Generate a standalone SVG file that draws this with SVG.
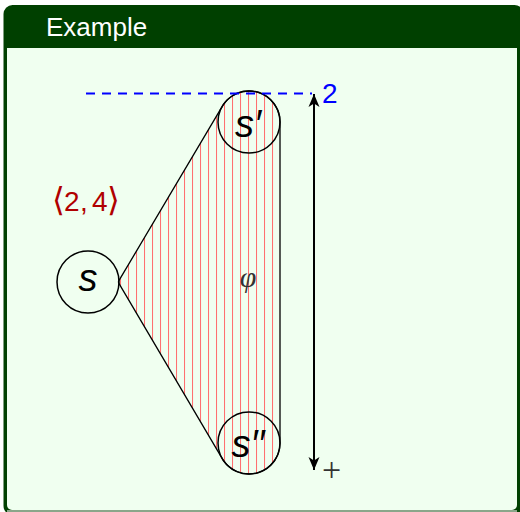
<svg xmlns="http://www.w3.org/2000/svg" width="520" height="512" viewBox="0 0 520 512">
  <style>
    .node { fill: none; stroke: #000; stroke-width: 1.5; }
    .lbl { font-family: "Liberation Sans", "DejaVu Sans", sans-serif; font-style: italic; font-size: 38px; fill: #000; text-anchor: middle; }
    .hull { stroke: #000; stroke-width: 1.3; fill: url(#hatch); }
  </style>
  <defs>
    <pattern id="hatch" patternUnits="userSpaceOnUse" x="0" y="0" width="8" height="8">
      <line x1="0.5" y1="0" x2="0.5" y2="8" stroke="#ff7070" stroke-width="1.1"/>
    </pattern>
    <marker id="stealth" markerUnits="userSpaceOnUse" viewBox="-14 -7 15 14" refX="0" refY="0" markerWidth="15" markerHeight="14" orient="auto-start-reverse">
      <path d="M0,0 L-13,-5.5 L-9.5,0 L-13,5.5 Z" fill="#000"/>
    </marker>
  </defs>

  <g id="frame">
    <rect x="3.5" y="5" width="520" height="510" rx="9" fill="#004000"/>
    <path d="M7,48 H517 V505 A5,5 0 0 1 512,510 H12 A5,5 0 0 1 7,505 Z" fill="#f0fff0"/>
    <line x1="7" y1="511" x2="517" y2="511" stroke="#b8c8b8" stroke-width="1.5"/>
    <text x="46" y="35.5" font-family="Liberation Sans, Arial, sans-serif" font-size="26" fill="#ffffff">Example</text>
  </g>

  <g id="hull">
    <path class="hull" d="M118.9,280.7 L222.4,106.1 A31,31 0 0 1 280,122 L280,443 A31,31 0 0 1 222.4,458.9 L118.9,283.3 A2.5,2.5 0 0 1 118.9,280.7 Z"/>
    <text x="248" y="287" font-family="Liberation Serif, DejaVu Serif, serif" font-style="italic" font-size="30" fill="#333" text-anchor="middle">φ</text>
  </g>

  <g id="node-s">
    <circle class="node" cx="88" cy="282" r="31"/>
    <text class="lbl" x="88" y="291">s</text>
  </g>
  <g id="node-s1">
    <circle class="node" cx="249" cy="122" r="31"/>
    <text class="lbl" x="248" y="137">s′</text>
  </g>
  <g id="node-s2">
    <circle class="node" cx="249" cy="443" r="31"/>
    <text class="lbl" x="248" y="457">s′′</text>
  </g>

  <g id="label-24">
    <text font-family="Liberation Sans, DejaVu Sans, sans-serif" font-size="28" fill="#b00000" y="211"><tspan x="52" font-family="DejaVu Sans, sans-serif" font-size="33">⟨</tspan><tspan x="64">2</tspan><tspan x="80">,</tspan><tspan x="92">4</tspan><tspan x="107" font-family="DejaVu Sans, sans-serif" font-size="33">⟩</tspan></text>
  </g>

  <g id="connectors">
    <line x1="86" y1="93.5" x2="312" y2="93.5" stroke="#0000ff" stroke-width="2" stroke-dasharray="9 7"/>
    <line x1="314" y1="94" x2="314" y2="470" stroke="#000" stroke-width="2" marker-start="url(#stealth)" marker-end="url(#stealth)"/>
    <text x="322" y="103" font-family="Liberation Sans, Arial, sans-serif" font-size="28" fill="#0000ff">2</text>
    <text x="322" y="481" font-family="Liberation Serif, Times New Roman, serif" font-size="34" fill="#333">+</text>
  </g>
</svg>
